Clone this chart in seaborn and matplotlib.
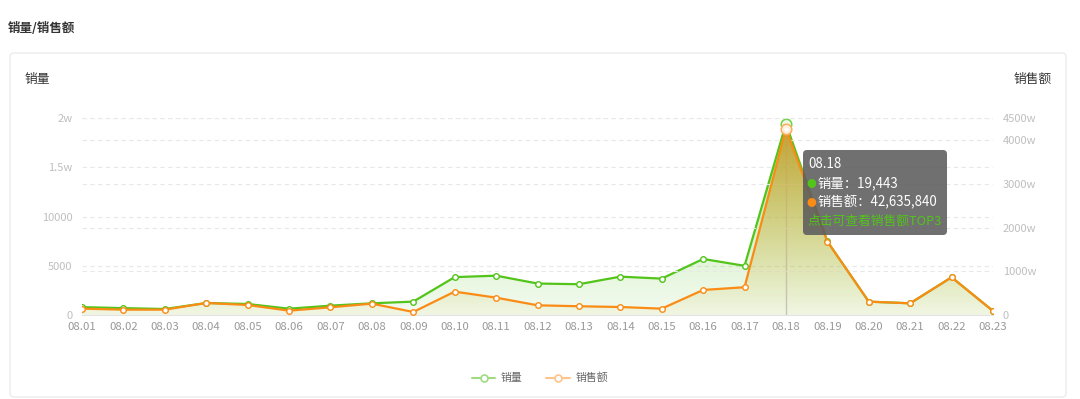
import numpy as np
import pandas as pd
import matplotlib
matplotlib.use("Agg")
import matplotlib.pyplot as plt
import seaborn as sns
from matplotlib.patches import Polygon, FancyBboxPatch
from matplotlib.lines import Line2D
from matplotlib.transforms import IdentityTransform

# ---------------- data ----------------
dates = ["08.01", "08.02", "08.03", "08.04", "08.05", "08.06", "08.07", "08.08",
         "08.09", "08.10", "08.11", "08.12", "08.13", "08.14", "08.15", "08.16",
         "08.17", "08.18", "08.19", "08.20", "08.21", "08.22", "08.23"]
sales_qty = [800, 700, 610, 1220, 1120, 640, 950, 1190, 1360, 3850, 4000, 3200,
             3130, 3900, 3700, 5700, 5000, 19443, 7480, 1360, 1190, 3840, 410]
sales_amt = [1450000, 1220000, 1220000, 2750000, 2290000, 990000, 1760000, 2600000,
             690000, 5350000, 3970000, 2220000, 2000000, 1830000, 1450000, 5730000,
             6350000, 42635840, 16800000, 3050000, 2680000, 8620000, 920000]
left_ticks = [0, 5000, 10000, 15000, 20000]
left_labels = ["0", "5000", "10000", "1.5w", "2w"]
right_ticks = [0, 10000000, 20000000, 30000000, 40000000, 45000000]
right_labels = ["0", "1000w", "2000w", "3000w", "4000w", "4500w"]
highlight = "08.18"

GREEN = "#52c41a"
ORANGE = "#fa8c16"

df = pd.DataFrame({"pos": np.arange(len(dates)), "date": dates,
                   "qty": sales_qty, "amt": sales_amt})

sns.set_style("white")
plt.rcParams["font.family"] = ["Noto Sans CJK SC", "DejaVu Sans"]

W, H = 1080, 399
fig = plt.figure(figsize=(W / 100, H / 100), dpi=100)
fig.patch.set_facecolor("white")

# card border
card = FancyBboxPatch((10, H - 397), 1056, 344, boxstyle="round,pad=0,rounding_size=4",
                      fc="none", ec="#ececec", lw=1, transform=IdentityTransform(), zorder=-1)
fig.patches.append(card)

x0, x1, yb, yt = 82, 993, 315, 118.3
ax = fig.add_axes([x0 / W, 1 - yb / H, (x1 - x0) / W, (yb - yt) / H])
ax2 = ax.twinx()
ax.patch.set_visible(False)
ax2.patch.set_visible(False)


def grad_fill(axx, x, y, top, bot, ymax):
    verts = [(x[0], 0)] + list(zip(x, y)) + [(x[-1], 0)]
    poly = Polygon(verts, closed=True, fc="none", ec="none")
    axx.add_patch(poly)
    n = 256
    t = np.linspace(0, 1, n)
    img = np.zeros((n, 1, 4))
    for c in range(4):
        img[:, 0, c] = bot[c] + (top[c] - bot[c]) * t
    im = axx.imshow(img, extent=[x[0], x[-1], 0, ymax], origin="lower",
                    aspect="auto", zorder=1, interpolation="bilinear")
    im.set_clip_path(poly)


xs = df["pos"].to_numpy()
# green area + line
grad_fill(ax, xs, df["qty"].to_numpy(), (0.32, 0.77, 0.10, 0.40), (0.32, 0.77, 0.10, 0.07),
          df["qty"].max())
sns.lineplot(data=df, x="pos", y="qty", ax=ax, color=GREEN, lw=1.6, marker="o",
             markersize=4, markerfacecolor="white", markeredgecolor=GREEN,
             markeredgewidth=1, zorder=3)
# orange area + line
grad_fill(ax2, xs, df["amt"].to_numpy(), (0.77, 0.62, 0.18, 0.95), (0.84, 0.78, 0.36, 0.08),
          df["amt"].max())
sns.lineplot(data=df, x="pos", y="amt", ax=ax2, color=ORANGE, lw=1.6, marker="o",
             markersize=4, markerfacecolor="white", markeredgecolor=ORANGE,
             markeredgewidth=1, zorder=3)

# axes ranges / ticks
ax.set_xlim(0, len(dates) - 1)
ax.set_ylim(left_ticks[0], left_ticks[-1])
ax2.set_ylim(right_ticks[0], right_ticks[-1])
ax.set_xticks(xs)
ax.set_xticklabels(dates)
ax.set_yticks(left_ticks)
ax.set_yticklabels(left_labels)
ax2.set_yticks(right_ticks)
ax2.set_yticklabels(right_labels)
ax.set_xlabel("")
ax.set_ylabel("")
ax2.set_ylabel("")
ax.tick_params(axis="x", length=0, pad=5, labelsize=8.2, labelcolor="#999999")
ax.tick_params(axis="y", length=0, pad=7, labelsize=8, labelcolor="#bfbfbf")
ax2.tick_params(axis="y", length=0, pad=7, labelsize=8, labelcolor="#bfbfbf")
for a in (ax, ax2):
    for s in a.spines.values():
        s.set_visible(False)
ax.spines["bottom"].set_visible(True)
ax.spines["bottom"].set_color("#e3e3e3")

for v in left_ticks[1:]:
    ax.axhline(v, color="#e8e8e8", lw=0.8, ls=(0, (4, 3)), zorder=0)
for v in right_ticks[1:]:
    ax2.axhline(v, color="#e8e8e8", lw=0.8, ls=(0, (4, 3)), zorder=0)

# highlight (axis pointer + emphasised points)
hi = dates.index(highlight)
ax.axvline(hi, color="#c4c4c4", lw=1, zorder=2)
ax.plot([hi], [sales_qty[hi]], marker="o", ms=7.5, mfc=(1, 1, 1, 0.85), mec="#72d24a",
        mew=1.2, zorder=5)
ax2.plot([hi], [sales_amt[hi]], marker="o", ms=7.5, mfc=(1, 1, 1, 0.85), mec="#ffad5c",
         mew=1.2, zorder=5)

# legend
handles = [Line2D([], [], color="#9fdc80", lw=1.5, marker="o", ms=5, mfc="white",
                  mec="#9fdc80", mew=1.2),
           Line2D([], [], color="#ffc48a", lw=1.5, marker="o", ms=5, mfc="white",
                  mec="#ffc48a", mew=1.2)]
for a in (ax, ax2):
    if a.get_legend() is not None:
        a.get_legend().remove()
leg = fig.legend(handles, ["销量", "销售额"], loc="center", bbox_to_anchor=(540 / W, 1 - 378 / H),
                 ncol=2, frameon=False, fontsize=7.8, handlelength=2.2, columnspacing=2.2,
                 handletextpad=0.5)
for t in leg.get_texts():
    t.set_color("#666666")

# texts
fig.text(8 / W, 1 - 28 / H, "销量/销售额", fontsize=9, fontweight="bold", color="#333333",
         va="center", ha="left")
fig.text(25 / W, 1 - 79 / H, "销量", fontsize=9.2, color="#333333", va="center", ha="left")
fig.text(1052 / W, 1 - 79 / H, "销售额", fontsize=9.2, color="#333333", va="center", ha="right")

# tooltip
tip = FancyBboxPatch((803, H - 235), 144, 85, boxstyle="round,pad=0,rounding_size=4",
                     fc=(0.36, 0.36, 0.36, 0.88), ec="none", transform=IdentityTransform(),
                     zorder=10)
fig.patches.append(tip)
fig.text(808 / W, 1 - 164 / H, highlight, fontsize=9.6, color="white", va="center", ha="left",
         zorder=11)
fig.text(811 / W, 1 - 183.5 / H, "●", fontsize=7, color=GREEN, va="center", ha="center", zorder=11)
fig.text(818 / W, 1 - 183 / H, f"销量：{sales_qty[hi]:,}", fontsize=9.6, color="white",
         va="center", ha="left", zorder=11)
fig.text(811 / W, 1 - 202.5 / H, "●", fontsize=7, color=ORANGE, va="center", ha="center", zorder=11)
fig.text(818 / W, 1 - 202 / H, f"销售额：{sales_amt[hi]:,}", fontsize=9.6, color="white",
         va="center", ha="left", zorder=11)
fig.text(807 / W, 1 - 221 / H, "点击可查看销售额TOP3", fontsize=9.2, color=GREEN,
         va="center", ha="left", zorder=11)

fig.savefig("out.png", dpi=100, facecolor="white")
